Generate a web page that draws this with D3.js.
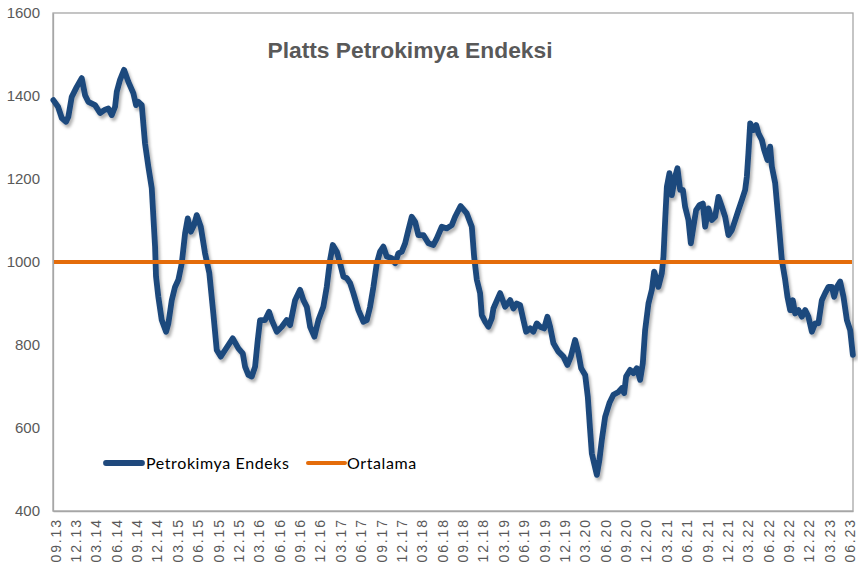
<!DOCTYPE html>
<html>
<head>
<meta charset="utf-8">
<script src="https://cdn.jsdelivr.net/npm/d3@7"></script>
<style>
  html, body { margin: 0; padding: 0; background: #ffffff; }
  svg { display: block; }
</style>
</head>
<body>
<svg id="chart" width="858" height="569"></svg>
<script>
// ---------- DATA ----------
const chartTitle = "Platts Petrokimya Endeksi";
const seriesName = "Petrokimya Endeks";
const averageName = "Ortalama";
const averageValue = 1000;

// quarterly category labels (month.year)
const tickLabels = ["09.13","12.13","03.14","06.14","09.14","12.14","03.15","06.15","09.15","12.15",
  "03.16","06.16","09.16","12.16","03.17","06.17","09.17","12.17","03.18","06.18",
  "09.18","12.18","03.19","06.19","09.19","12.19","03.20","06.20","09.20","12.20",
  "03.21","06.21","09.21","12.21","03.22","06.22","09.22","12.22","03.23","06.23"];
// months elapsed since 09.13 for each tick label
const tickMonths = tickLabels.map((d, i) => i * 3);

const yTicks = [400, 600, 800, 1000, 1200, 1400, 1600];

// observation time (months since 09.13) and index value
const monthOffsets = [-0.25,0.44,0.99,1.62,1.96,2.46,3.2,3.93,4.42,4.9,5.89,6.63,7.36,7.85,8.35,8.84,9.09,9.57,10.16,10.8,
  11.53,11.93,12.27,12.77,13.25,13.74,14.24,14.48,14.73,14.87,15.21,15.71,16.35,16.69,17.19,17.67,18.16,18.66,19.15,19.54,
  19.99,20.47,20.87,21.46,22.09,22.72,23.31,23.81,24.4,25.04,26.17,27.0,27.64,27.98,28.47,28.97,29.46,29.85,30.19,30.93,
  31.52,31.91,32.65,33.39,34.12,34.61,35.35,36.08,36.57,37.07,37.56,38.19,38.78,39.51,40.01,40.5,40.9,41.49,41.97,42.46,
  42.96,43.45,43.93,44.67,45.41,45.91,46.39,46.88,47.38,47.86,48.35,48.85,49.59,50.07,50.56,51.06,51.55,52.03,52.53,53.02,
  53.5,54.24,54.98,55.71,56.21,56.95,57.69,58.42,58.91,59.72,60.63,61.37,61.71,62.11,62.59,62.84,63.33,63.81,64.31,64.55,
  65.54,66.27,67.01,67.5,68.0,68.48,68.97,69.37,69.96,70.44,70.94,71.43,72.02,72.5,72.9,73.39,74.12,74.86,75.45,75.95,
  76.58,77.07,77.47,78.06,78.45,78.79,79.04,79.38,79.78,80.16,80.51,81.0,81.63,82.22,82.96,83.46,83.8,84.09,84.68,85.17,
  85.67,86.16,86.55,86.89,87.38,87.88,88.22,88.85,89.35,89.59,89.84,90.09,90.47,90.82,91.31,91.65,92.05,92.45,92.78,93.27,
  93.62,94.0,94.4,94.89,95.39,95.73,96.22,96.72,97.2,97.69,98.19,98.67,99.16,99.66,100.15,100.63,101.13,101.62,101.87,102.1,
  102.36,102.84,103.24,103.58,104.08,104.42,104.9,105.3,105.55,106.04,106.52,107.02,107.51,107.85,108.25,108.64,108.98,109.47,109.97,110.46,
  110.94,111.44,111.93,112.41,112.91,113.4,113.89,114.39,114.73,115.12,115.61,116.1,116.6,117.08,117.48];
const indexValues = [1390,1374,1347,1338,1350,1398,1422,1443,1402,1386,1378,1359,1367,1370,1354,1374,1410,1439,1463,1434,
  1407,1378,1386,1378,1286,1230,1178,1109,1037,965,916,860,832,852,908,940,957,997,1069,1105,
  1073,1089,1113,1085,1021,973,876,788,772,788,816,792,780,748,728,724,748,812,860,860,
  880,860,832,844,860,848,908,933,908,892,844,820,860,892,940,1005,1041,1025,997,965,
  961,949,925,884,856,860,892,940,997,1025,1037,1013,1009,997,1021,1025,1045,1077,1109,1097,
  1065,1065,1045,1041,1057,1085,1081,1089,1109,1135,1117,1085,1013,957,925,872,856,844,864,888,
  925,892,908,888,900,896,860,832,840,832,852,844,840,868,844,804,784,772,752,772,
  812,780,744,728,675,595,539,515,487,523,571,627,660,680,687,696,684,724,740,732,
  744,716,756,836,900,933,977,940,973,1013,1101,1181,1214,1161,1206,1226,1174,1174,1133,1101,
  1045,1085,1125,1137,1141,1085,1129,1101,1109,1157,1133,1109,1065,1077,1101,1125,1149,1174,1206,1262,
  1334,1318,1330,1310,1294,1270,1246,1278,1230,1190,1101,1005,957,916,884,908,876,884,868,884,
  868,832,852,852,908,925,940,940,916,940,953,916,860,836,776];

// ---------- CHART ----------
const svg = d3.select("#chart");
const plot = { left: 53, right: 853, top: 13, bottom: 511 };

const x = d3.scaleLinear().domain([-0.3, 117.5]).range([plot.left, plot.right]);
const y = d3.scaleLinear().domain([400, 1600]).range([plot.bottom, plot.top]);

const defs = svg.append("defs");
const f = defs.append("filter").attr("id", "shadow")
  .attr("x", "-10%").attr("y", "-10%").attr("width", "120%").attr("height", "120%");
f.append("feDropShadow").attr("dx", 2).attr("dy", 3).attr("stdDeviation", 1.8)
  .attr("flood-color", "#000").attr("flood-opacity", 0.3);

// plot border
svg.append("rect")
  .attr("x", plot.left).attr("y", plot.top)
  .attr("width", plot.right - plot.left).attr("height", plot.bottom - plot.top)
  .attr("fill", "none").attr("stroke", "#a6a6a6").attr("stroke-width", 1.3);

// Y axis
const yAxis = svg.append("g")
  .attr("transform", `translate(${plot.left},0)`)
  .call(d3.axisLeft(y).tickValues(yTicks).tickSize(0).tickPadding(13).tickFormat(d3.format("d")));
yAxis.select(".domain").attr("stroke", "#a6a6a6").attr("stroke-width", 1.3);
yAxis.selectAll("text")
  .attr("fill", "#595959")
  .style("font-family", "'Liberation Sans', Arial, sans-serif")
  .style("font-size", "15px");

// X axis
const xAxis = svg.append("g")
  .attr("transform", `translate(0,${plot.bottom})`)
  .call(d3.axisBottom(x).tickValues(tickMonths).tickSize(0).tickFormat((d, i) => tickLabels[i]));
xAxis.select(".domain").attr("stroke", "#a6a6a6").attr("stroke-width", 1.3);
xAxis.selectAll("text")
  .attr("fill", "#595959")
  .style("font-family", "'Liberation Sans', Arial, sans-serif")
  .style("font-size", "14px")
  .style("letter-spacing", "1.9px")
  .attr("text-anchor", "end")
  .attr("transform", "rotate(-90)")
  .attr("x", -7)
  .attr("y", 0)
  .attr("dy", "0.36em");

// series
const pts = monthOffsets.map((m, i) => [m, indexValues[i]]);
const line = d3.line().x(d => x(d[0])).y(d => y(d[1])).curve(d3.curveLinear);

svg.append("path")
  .datum(pts)
  .attr("d", line)
  .attr("fill", "none")
  .attr("stroke", "#1f497d")
  .attr("stroke-width", 5.8)
  .attr("stroke-linejoin", "round")
  .attr("stroke-linecap", "round")
  .attr("filter", "url(#shadow)");

// average
svg.append("line")
  .attr("x1", plot.left + 1).attr("x2", plot.right - 1)
  .attr("y1", y(averageValue)).attr("y2", y(averageValue))
  .attr("stroke", "#e46c0a").attr("stroke-width", 4);

// title
svg.append("text")
  .attr("x", 410).attr("y", 58)
  .attr("text-anchor", "middle")
  .attr("fill", "#595959")
  .style("font-family", "'Liberation Sans', Arial, sans-serif")
  .style("font-weight", "bold")
  .style("font-size", "22.8px")
  .text(chartTitle);

// legend
const legend = svg.append("g").attr("transform", "translate(0,463)");
legend.append("line").attr("x1", 106).attr("x2", 142).attr("y1", 0).attr("y2", 0)
  .attr("stroke", "#1f497d").attr("stroke-width", 5.8).attr("stroke-linecap", "round");
legend.append("text").attr("x", 146).attr("y", 0).attr("dy", "0.35em")
  .attr("fill", "#000")
  .style("font-family", "Lato, 'Open Sans', sans-serif").style("font-size", "16px")
  .style("letter-spacing", "0.6px")
  .text(seriesName);
legend.append("line").attr("x1", 308).attr("x2", 345).attr("y1", 0).attr("y2", 0)
  .attr("stroke", "#e46c0a").attr("stroke-width", 4).attr("stroke-linecap", "round");
legend.append("text").attr("x", 347).attr("y", 0).attr("dy", "0.35em")
  .attr("fill", "#000")
  .style("font-family", "Lato, 'Open Sans', sans-serif").style("font-size", "16px")
  .style("letter-spacing", "0.6px")
  .text(averageName);
</script>
</body>
</html>
